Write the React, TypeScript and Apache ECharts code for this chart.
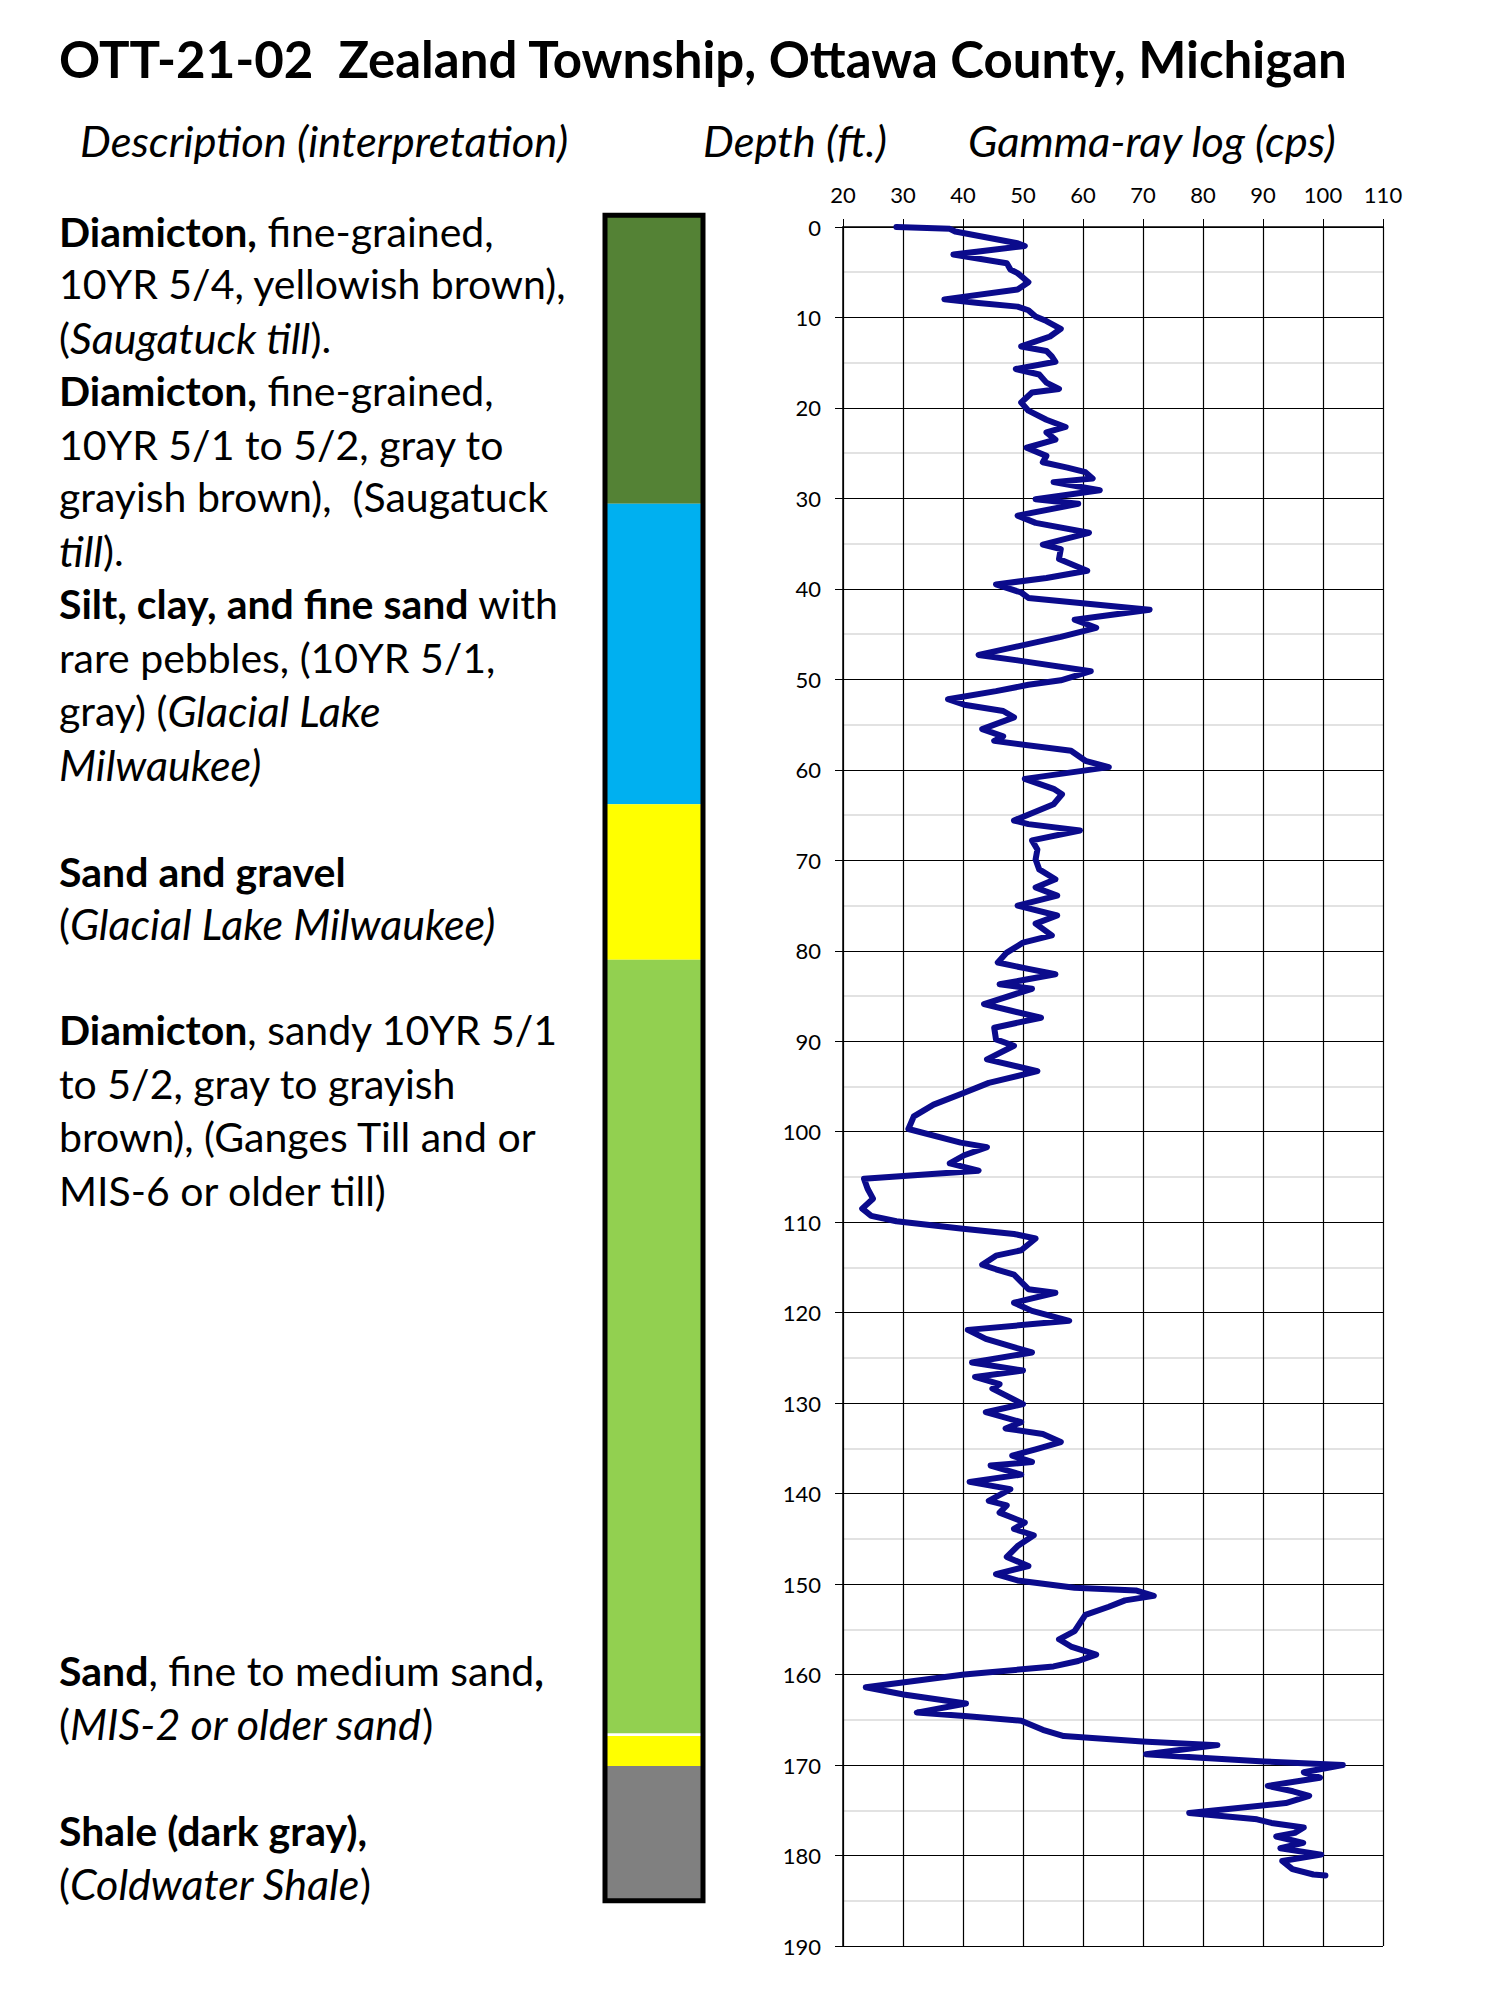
import React, { useEffect, useRef } from "react";
import * as echarts from "echarts";

// ---------- DATA ----------
const titleText = "OTT-21-02  Zealand Township, Ottawa County, Michigan";
const headerTexts = ["Description (interpretation)", "Depth (ft.)", "Gamma-ray log (cps)"];

const gammaDepth = [
  0, 0.2, 0.5, 1.8, 2.1, 3.05, 4.0, 4.7, 5.1, 6.1, 6.9, 8.0, 8.4, 8.8, 9.2, 9.9, 10.4, 11.25, 12.1, 13.2,
  13.7, 14.3, 14.9, 15.7, 16.3, 17.2, 17.9, 18.3, 19.4, 20.3, 21.3, 22.1, 22.7, 23.5, 24.4,
  25.3, 26.0, 26.6, 27.1, 27.8, 28.2, 29.1, 30.1, 30.6, 31.9, 32.7, 33.8, 35.1, 35.6, 36.7, 38.0, 38.8,
  39.5, 40.4, 41.0, 42.3, 43.4, 44.3, 45.3, 47.3, 47.9, 49.1, 50.1,
  50.6, 51.3, 52.2, 52.8, 53.5, 54.2, 55.5, 56.3, 56.8, 57.9, 59.0, 59.7, 61.0, 62.1, 62.7, 63.8, 65.6,
  66.0, 66.7, 67.8, 68.8, 69.9, 71.0, 72.1, 73.0, 73.9, 75.0,
  76.1, 77.0, 78.3, 79.1, 80.2, 81.3, 82.0, 82.6, 83.7, 84.2, 85.9, 86.6, 87.4, 88.5, 89.8, 90.5, 92.0,
  93.3, 94.6, 95.7, 97.0, 98.3, 99.7, 101.2, 101.7,
  102.6, 103.5, 104.3, 105.2, 106.3, 107.4, 108.5, 109.3, 109.9, 110.7, 111.3, 111.8, 113.1, 113.7,
  114.7, 115.2, 115.8, 117.4, 117.8, 118.9, 119.8, 120.9, 121.9, 122.9, 124.4, 125.5, 126.4,
  127.1, 127.9, 128.4, 129.2, 130.1, 131.0, 132.1, 132.8, 133.4, 134.3, 135.1, 135.8, 136.5, 136.9,
  137.9, 138.7, 139.5, 140.8, 141.3, 142.1, 143.2, 143.9, 144.6, 145.8, 147.0, 148.0, 148.9, 149.6,
  150.4, 150.7, 151.3, 151.8,
  152.5, 153.4, 154.3, 155.2, 156.1, 156.9, 157.8, 158.5, 159.1, 160.0, 161.4, 162.2, 163.2, 164.2,
  164.6, 165.1, 166.1, 166.8, 167.4, 167.8, 168.8, 169.2, 169.6, 170.0, 170.8, 171.4, 172.3, 172.9,
  173.4, 174.2, 175.3, 176.0, 176.4, 176.9, 177.5,
  177.9, 178.6, 179.2, 179.9, 180.6, 181.5, 182.1, 182.2
];
const gammaCps = [
  28.9, 37.8, 38.7, 49.1, 50.3, 38.4, 47.3, 47.9, 49.1, 50.9, 49.1, 36.9, 42.6, 49.1, 50.9, 52.1, 53.9, 56.3, 54.5, 49.7,
  53.9, 54.8, 55.4, 48.8, 52.7, 53.9, 56.0, 51.5, 49.7, 50.9, 53.9, 57.1, 53.9, 55.4, 50.6,
  53.9, 53.3, 57.4, 60.4, 61.6, 55.1, 62.8, 52.1, 59.2, 49.1, 52.1, 61.0, 53.3, 56.3, 56.0, 60.7, 53.9,
  45.5, 49.7, 50.9, 71.1, 58.6, 62.2, 56.3, 42.6, 49.1, 61.3, 56.3,
  50.9, 45.5, 37.5, 40.2, 46.7, 48.5, 43.2, 46.7, 45.2, 58.0, 60.4, 64.3, 50.3, 55.1, 56.5, 55.1, 48.5,
  50.9, 59.5, 51.5, 52.4, 52.1, 52.7, 55.4, 52.1, 55.7, 49.1,
  55.7, 52.1, 54.8, 50.0, 47.3, 45.8, 50.9, 55.4, 46.1, 51.5, 43.5, 47.9, 53.0, 45.2, 45.5, 48.5, 44.0,
  52.4, 44.3, 40.2, 35.1, 31.8, 30.9, 39.6, 44.0,
  40.2, 37.8, 42.6, 23.5, 24.1, 25.0, 23.2, 24.7, 28.9, 39.6, 48.5, 52.1, 49.7, 45.5,
  43.2, 45.5, 48.5, 50.9, 55.4, 48.5, 51.5, 57.7, 40.8, 43.8, 51.5, 41.5, 50.0,
  42.0, 46.1, 44.9, 47.3, 50.0, 43.8, 49.7, 47.1, 53.3, 56.3, 52.1, 48.2, 51.5, 44.6,
  49.7, 41.1, 47.9, 44.3, 47.3, 46.1, 50.3, 48.5, 51.8, 49.1, 47.3, 50.9, 45.5, 49.1,
  58.6, 68.8, 71.8, 67.0,
  64.3, 60.4, 59.5, 58.6, 56.0, 58.0, 62.2, 59.2, 55.1, 40.2, 23.8, 30.1, 40.5, 32.3,
  40.8, 49.7, 53.3, 56.8, 69.9, 82.4, 70.5, 79.6, 90.2, 103.3, 96.8, 99.5, 90.8, 95.0,
  97.7, 93.8, 77.7, 89.0, 91.4, 96.8, 95.3,
  92.2, 96.7, 92.9, 99.7, 93.2, 94.9, 98.4, 100.4
];

// lithology column (depth, ft)
const layerTop = [-1.3, 30.6, 63.8, 81.0, 166.5, 166.8, 170.1];
const layerBottom = [30.6, 63.8, 81.0, 166.5, 166.8, 170.1, 185.0];
const layerColor = ["#548235", "#00b0f0", "#ffff00", "#92d050", "#ffffff", "#ffff00", "#808080"];

// description lines ({b|...} bold, {i|...} italic)
const descriptionLines = [
  "{b|Diamicton,} fine-grained,",
  "10YR 5/4, yellowish brown),",
  "({i|Saugatuck till}).",
  "{b|Diamicton,} fine-grained,",
  "10YR 5/1 to 5/2, gray to",
  "grayish brown),  (Saugatuck",
  "{i|till}).",
  "{b|Silt, clay, and fine sand} with",
  "rare pebbles, (10YR 5/1,",
  "gray) ({i|Glacial Lake}",
  "{i|Milwaukee)}",
  "{b|Sand and gravel}",
  "({i|Glacial Lake Milwaukee)}",
  "{b|Diamicton}, sandy 10YR 5/1",
  "to 5/2, gray to grayish",
  "brown), (Ganges Till and or",
  "MIS-6 or older till)",
  "{b|Sand}, fine to medium sand{b|,}",
  "({i|MIS-2 or older sand})",
  "{b|Shale (dark gray),}",
  "({i|Coldwater Shale})"
];

// ---------- LAYOUT ----------
const descLineY = [231, 283, 337, 390, 444, 496, 550, 603, 657, 710, 764, 871, 923, 1029, 1083, 1136, 1190, 1670, 1723, 1830, 1883];
const FONT = "Lato, 'Noto Sans', sans-serif";
const GRID_TOP = 227;
const GRID_H = 1719;

export default function App() {
  const ref = useRef<HTMLDivElement>(null);
  useEffect(() => {
    if (!ref.current) return;
    const chart = echarts.init(ref.current, null, { renderer: "svg" });
    const bodySize = 41;
    const rich = {
      b: { fontWeight: "bold", fontSize: bodySize, fontFamily: FONT, fill: "#000", color: "#000" },
      i: { fontStyle: "italic", fontSize: 43, fontFamily: FONT, fill: "#000", color: "#000" }
    };
    const descElems = descriptionLines.map((t, k) => ({
      type: "text",
      x: 59,
      y: descLineY[k],
      style: {
        text: t,
        fontSize: bodySize,
        fontFamily: FONT,
        fill: "#000",
        textAlign: "left",
        textVerticalAlign: "middle",
        align: "left",
        verticalAlign: "middle",
        rich
      }
    }));
    const headerX = [80, 703, 968];
    const headerElems = headerTexts.map((t, k) => ({
      type: "text",
      x: headerX[k],
      y: 140,
      style: {
        text: t,
        fontSize: 43.5,
        fontStyle: "italic",
        fontFamily: FONT,
        fill: "#000",
        textAlign: "left",
        textVerticalAlign: "middle",
        align: "left",
        verticalAlign: "middle"
      }
    }));

    const option = {
      animation: false,
      backgroundColor: "#ffffff",
      graphic: [
        {
          type: "text",
          x: 59,
          y: 58,
          style: {
            text: titleText,
            fontSize: 51,
            fontWeight: "bold",
            fontFamily: FONT,
            fill: "#000",
            textAlign: "left",
            textVerticalAlign: "middle",
            align: "left",
            verticalAlign: "middle"
          }
        },
        ...headerElems,
        ...descElems
      ],
      grid: [
        { left: 843, top: GRID_TOP, width: 540, height: GRID_H },
        { left: 605, top: GRID_TOP, width: 98, height: GRID_H }
      ],
      xAxis: [
        {
          gridIndex: 0,
          type: "value",
          position: "top",
          min: 20,
          max: 110,
          interval: 10,
          axisLine: { show: true, onZero: false, lineStyle: { color: "#000", width: 1.5 } },
          axisTick: { show: true, length: 8, lineStyle: { color: "#000", width: 1 } },
          axisLabel: { show: true, margin: 22, fontSize: 22, fontFamily: FONT, color: "#000" },
          splitLine: { show: true, lineStyle: { color: "#000", width: 1.2 } }
        },
        { gridIndex: 1, type: "value", min: 0, max: 1, show: false }
      ],
      yAxis: [
        {
          gridIndex: 0,
          type: "value",
          inverse: true,
          min: 0,
          max: 190,
          interval: 10,
          axisLine: { show: true, onZero: false, lineStyle: { color: "#000", width: 1.5 } },
          axisTick: { show: true, length: 8, lineStyle: { color: "#000", width: 1 } },
          axisLabel: { show: true, margin: 22, fontSize: 22, fontFamily: FONT, color: "#000" },
          splitLine: { show: true, lineStyle: { color: "#000", width: 1.2 } },
          minorTick: { show: false, splitNumber: 2 },
          minorSplitLine: { show: true, lineStyle: { color: "#d9d9d9", width: 1.5 } }
        },
        { gridIndex: 1, type: "value", inverse: true, min: 0, max: 190, show: false }
      ],
      series: [
        {
          type: "custom",
          name: "lithology",
          xAxisIndex: 1,
          yAxisIndex: 1,
          clip: false,
          silent: true,
          data: layerTop.map((t, i) => [t, layerBottom[i], i]),
          encode: { y: [0, 1] },
          renderItem: (params: any, api: any) => {
            const a = api.coord([0, api.value(0)]);
            const b = api.coord([1, api.value(1)]);
            return {
              type: "rect",
              shape: { x: a[0], y: a[1], width: b[0] - a[0], height: b[1] - a[1] },
              style: { fill: layerColor[api.value(2)] }
            };
          }
        },
        {
          type: "custom",
          name: "outline",
          xAxisIndex: 1,
          yAxisIndex: 1,
          clip: false,
          silent: true,
          z: 3,
          data: [[layerTop[0], layerBottom[layerBottom.length - 1]]],
          encode: { y: [0, 1] },
          renderItem: (params: any, api: any) => {
            const a = api.coord([0, api.value(0)]);
            const b = api.coord([1, api.value(1)]);
            return {
              type: "rect",
              shape: { x: a[0], y: a[1], width: b[0] - a[0], height: b[1] - a[1] },
              style: { fill: "none", stroke: "#000", lineWidth: 5 }
            };
          }
        },
        {
          type: "line",
          name: "Gamma-ray",
          xAxisIndex: 0,
          yAxisIndex: 0,
          showSymbol: false,
          symbol: "none",
          data: gammaDepth.map((d, i) => [gammaCps[i], d]),
          lineStyle: { color: "#0b0b8c", width: 6, cap: "round", join: "round" },
          z: 5
        }
      ]
    };
    chart.setOption(option as any);
    return () => chart.dispose();
  }, []);
  return (
    <div
      ref={ref}
      style={{ position: "absolute", left: 0, top: 0, width: 1500, height: 2000, background: "#fff" }}
    />
  );
}
